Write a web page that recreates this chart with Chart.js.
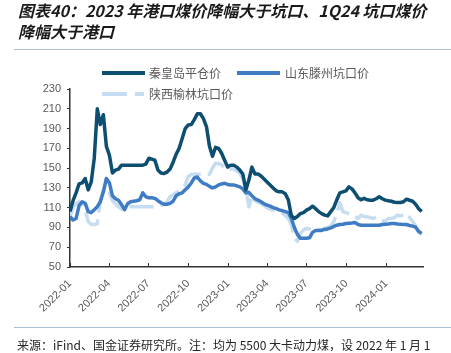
<!DOCTYPE html>
<html><head><meta charset="utf-8">
<script src="https://cdn.jsdelivr.net/npm/chart.js@4.4.0/dist/chart.umd.min.js"></script>
<style>
html,body{margin:0;padding:0;background:#fff;width:451px;height:353px;overflow:hidden;}
#wrap{position:relative;width:451px;height:353px;}
#c{position:absolute;left:0;top:0;}
.title{position:absolute;left:18px;top:0px;font:italic bold 16px/21px "Noto Sans CJK SC",sans-serif;color:#1a1a1a;white-space:nowrap;}
.rule{position:absolute;left:14px;width:437px;height:0;border-top:1.5px solid #a9bfd2;}
.note{position:absolute;left:17px;top:337px;font:12px/16px "Noto Sans CJK SC",sans-serif;color:#262626;white-space:nowrap;}
.lg{position:absolute;font:12px/16px "Noto Sans CJK SC",sans-serif;color:#595959;white-space:nowrap;}
.sw{position:absolute;height:4px;}
</style></head>
<body><div id="wrap">
<canvas id="c" width="451" height="353"></canvas>
<div class="title">图表40：2023 年港口煤价降幅大于坑口、1Q24 坑口煤价<br>降幅大于港口</div>
<div class="rule" style="top:49px"></div>
<div class="sw" style="left:102px;top:71px;width:43px;background:#0d4e71"></div>
<div class="lg" style="left:149px;top:65px">秦皇岛平仓价</div>
<div class="sw" style="left:237px;top:71px;width:43px;background:#3f7cc3"></div>
<div class="lg" style="left:285px;top:65px">山东滕州坑口价</div>
<div class="sw" style="left:102px;top:92px;width:25px;background:#c6dcf1"></div>
<div class="sw" style="left:135px;top:92px;width:9px;background:#c6dcf1"></div>
<div class="lg" style="left:149px;top:86px">陕西榆林坑口价</div>
<div class="rule" style="top:327px"></div>
<div class="note">来源：iFind、国金证券研究所。注：均为 5500 大卡动力煤，设 2022 年 1 月 1</div>
</div>
<script>
// weekly observations starting 2022-01-01 (x = days since 2022-01-01)
const seriesNames = ['秦皇岛平仓价', '山东滕州坑口价', '陕西榆林坑口价'];
const qhd = [106,117,125,134,135,139.5,128,136,160,210,194,204,172,163,145,148,149,153,153,153,153,153,153,153,153,154,160,159,158,148,145,144.5,146,149,156,164,170,180,190,193.7,194,199,205,205,200,192,172,162,171,170,165,158,151,153,153,151,148,144,128,138,151,144,144,142,139,136,133,130,127,126,126,124,118,102,99,101,104,105,107.5,109,111.5,109,106,104,102.5,101.7,106,110,118,125,126,127,131,129,125,120,118,119.4,118,117.6,117.6,119,121,119,117.6,117,116.5,115.5,115.3,115.3,116,118.6,117.5,116.5,113.5,109,106];
const sdtz = [101,97.5,99,112,116,114.5,106,105,108,111,116,126,139.5,135,122,119,117.5,113,108,114,116,116.6,117,118,125,121,120,120,119.4,117,115,113.5,113.5,114.3,116.5,122,124,125,128,131,135,140,141,137,134.5,133.6,131.5,130,131,133,134,134.6,133.5,133,133,132,131,129,125,125.5,122,119,117.6,116,114,112.5,111.5,110,109,107.8,107,106,105,99,90,83,79,79,79,79.5,85,87,87,87,88,88.5,89.5,91,92.3,93,93.3,94,94.3,94.6,95,93,92.3,92.3,92.3,92.3,92.3,92.3,92.3,93,93.3,93.5,94,94,93.5,93.3,93,93,92,91.3,90.3,86,84];
const sxyl = [101,110,114,116,114,108,96,93,93,94,117,126.8,130,125,117,114,111,108.5,108,110,111,111,111,111,111,111,111,111,111,111,112,113.5,116,121,123,125,127,129,133,141.5,143.5,143.7,143.7,143.7,143.7,143.7,143.7,150,155,154.5,153.5,150,148,149,149,147,145,139,131,111,122,117,115.5,114,112,109.8,108.5,107.5,106.5,106,104.5,102,99,93,79,76,83.8,87.5,89,88.5,88,88,88,88,89,90,91,96,104,115,106,105,104,104,101.5,99,102.4,101,100.7,100,99,100.7,98,97,96,99,99,100,102.4,101.7,102,104,100,96,92,85,83];
const days = qhd.map((_, i) => i * 7);
const tickDays = [0, 90, 181, 273, 365, 455, 546, 638, 730];
const tickLabels = ['2022-01','2022-04','2022-07','2022-10','2023-01','2023-04','2023-07','2023-10','2024-01'];
const yTicks = [50, 70, 90, 110, 130, 150, 170, 190, 210, 230];

const innerTicks = {
  id: 'innerTicks',
  afterDraw(chart) {
    const xs = chart.scales.x, ctx = chart.ctx, y = chart.chartArea.bottom;
    ctx.save(); ctx.strokeStyle = '#333'; ctx.lineWidth = 1;
    xs.ticks.forEach(t => {
      const px = Math.round(xs.getPixelForValue(t.value)) + 0.5;
      ctx.beginPath(); ctx.moveTo(px, y); ctx.lineTo(px, y - 4); ctx.stroke();
    });
    ctx.restore();
  }
};

new Chart(document.getElementById('c'), {
  type: 'line',
  data: {
    labels: days,
    datasets: [
      {label: seriesNames[0], data: qhd, borderColor: '#0d4e71', borderWidth: 3.5, order: 1},
      {label: seriesNames[1], data: sdtz, borderColor: '#3f7cc3', borderWidth: 3.5, order: 2},
      {label: seriesNames[2], data: sxyl, borderColor: '#c6dcf1', borderWidth: 3.5, borderDash: [24, 7], order: 3}
    ]
  },
  options: {
    responsive: false,
    animation: false,
    devicePixelRatio: 1,
    layout: {padding: {top: 89, right: 28, left: 0, bottom: 0}},
    elements: {point: {radius: 0}, line: {tension: 0, borderJoinStyle: 'round', fill: false}},
    plugins: {legend: {display: false}, tooltip: {enabled: false}},
    scales: {
      x: {
        type: 'linear', min: 0, max: 815,
        afterBuildTicks: s => { s.ticks = tickDays.map(v => ({value: v})); },
        afterFit: s => { s.height = 86; },
        grid: {display: false, drawTicks: false},
        border: {display: true, color: '#333', width: 1.5},
        ticks: {
          autoSkip: false, maxRotation: 45, minRotation: 45, padding: 10,
          color: '#595959', font: {size: 11, family: 'Liberation Sans, Arial, sans-serif'},
          callback: v => { const k = tickDays.indexOf(v); return k >= 0 ? tickLabels[k] : ''; }
        }
      },
      y: {
        min: 50, max: 230,
        afterBuildTicks: s => { s.ticks = yTicks.map(v => ({value: v})); },
        afterFit: s => { s.width = 70; },
        grid: {drawOnChartArea: false, drawTicks: true, tickLength: 3, color: '#333'},
        border: {display: true, color: '#333', width: 1.5},
        ticks: {padding: 6, color: '#595959', font: {size: 11, family: 'Liberation Sans, Arial, sans-serif'}}
      }
    }
  },
  plugins: [innerTicks]
});
</script>
</body></html>
